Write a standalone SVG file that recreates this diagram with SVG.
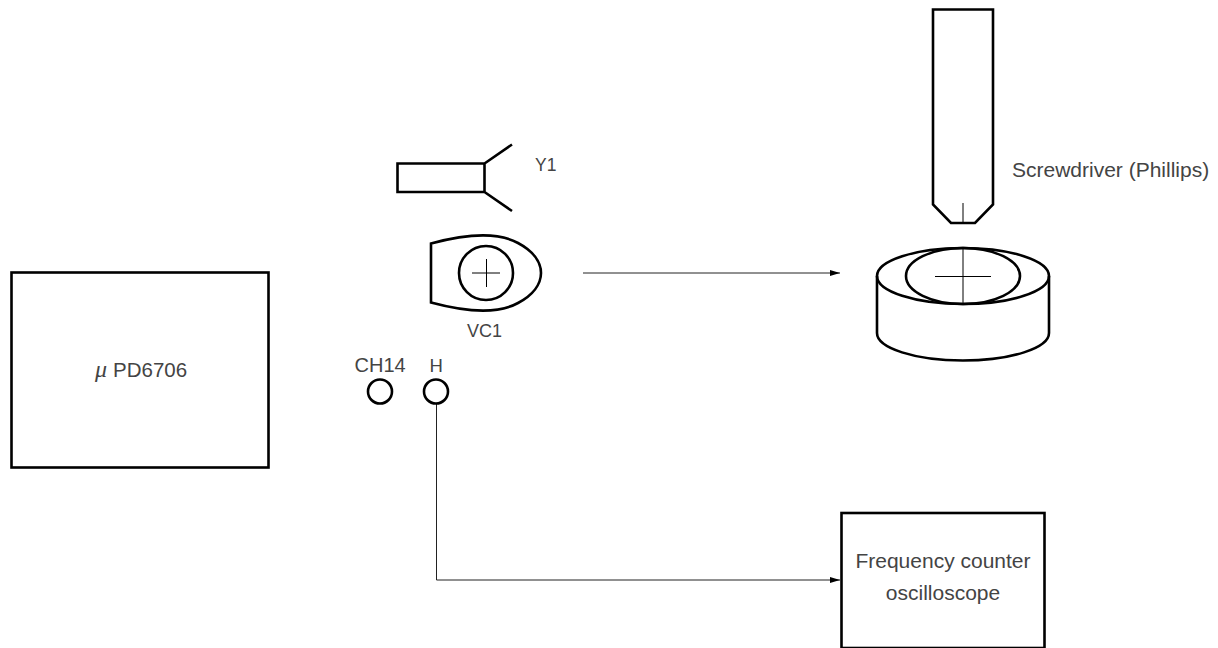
<svg xmlns="http://www.w3.org/2000/svg" width="1218" height="648" viewBox="0 0 1218 648">
<defs>
<style>
.t{font-family:"Liberation Sans",Arial,sans-serif;font-size:20.500px;fill:#444}
.s{fill:none;stroke:#000;stroke-width:2.6}
.f{fill:none;stroke:#000;stroke-width:1}
.c{fill:none;stroke:#222;stroke-width:1}
</style>
<marker id="a" markerUnits="userSpaceOnUse" markerWidth="11" markerHeight="8" refX="10" refY="3.500" orient="auto"><path d="M0 0.500L10 3.500L0 6.500Z" fill="#000"/></marker>
</defs>
<rect width="1218" height="648" fill="#fff"/>
<g id="connectors">
<path class="c" d="M583 273H840" marker-end="url(#a)"/>
<path class="c" d="M436.500 403V580H840" marker-end="url(#a)"/>
</g>
<g id="chip"><rect class="s" x="11.500" y="272.500" width="257" height="195"/>
<text class="t" x="95" y="377" style="font-family:'Liberation Serif',serif;font-style:italic;font-size:24px">μ</text><text class="t" x="113" y="377">PD6706</text></g>
<g id="y1"><path class="s" d="M397.500 163.500H484.500V192H397.500ZM484.500 163.500L512 144.500M484.500 192L512 211"/><text class="t" x="535" y="171" style="font-size:17.500px">Y1</text></g>
<g id="vc1"><path class="s" d="M431 243.500C470 233 500 233 518 243C533 251 541 262 541 273C541 284 533 295 518 303C500 313 470 313 431 302.500Z"/><circle class="s" cx="486" cy="273" r="27"/><path class="f" d="M472 273H500M486.500 259V287"/><text class="t" x="467" y="337" style="font-size:18px">VC1</text></g>
<g id="ch14"><circle class="s" cx="380" cy="391.500" r="12"/><text class="t" x="354.500" y="372" style="font-size:20px">CH14</text></g>
<g id="h"><circle class="s" cx="436" cy="391.500" r="12"/><text class="t" x="429.500" y="372" style="font-size:18.500px">H</text></g>
<g id="screwdriver"><path class="s" d="M933 9.500H993V204.500L975 223H951L933 204.500Z"/><path class="f" d="M963 203V223"/><text class="t" x="1012" y="177" style="font-size:21px">Screwdriver (Phillips)</text></g>
<g id="trimmer"><ellipse class="s" cx="963" cy="276" rx="86" ry="28"/><ellipse class="s" cx="963" cy="276" rx="57" ry="28"/><path class="s" d="M877 276V333C877 348 915 360.500 963 360.500C1011 360.500 1049 348 1049 333V276"/><path class="f" d="M935 276.500H991M963 248V304"/></g>
<g id="counter"><rect class="s" x="841.500" y="513" width="203" height="135"/>
<text class="t" text-anchor="middle" x="943" y="568" style="font-size:21px">Frequency counter</text><text class="t" text-anchor="middle" x="943" y="600" style="font-size:21px">oscilloscope</text></g>
</svg>
